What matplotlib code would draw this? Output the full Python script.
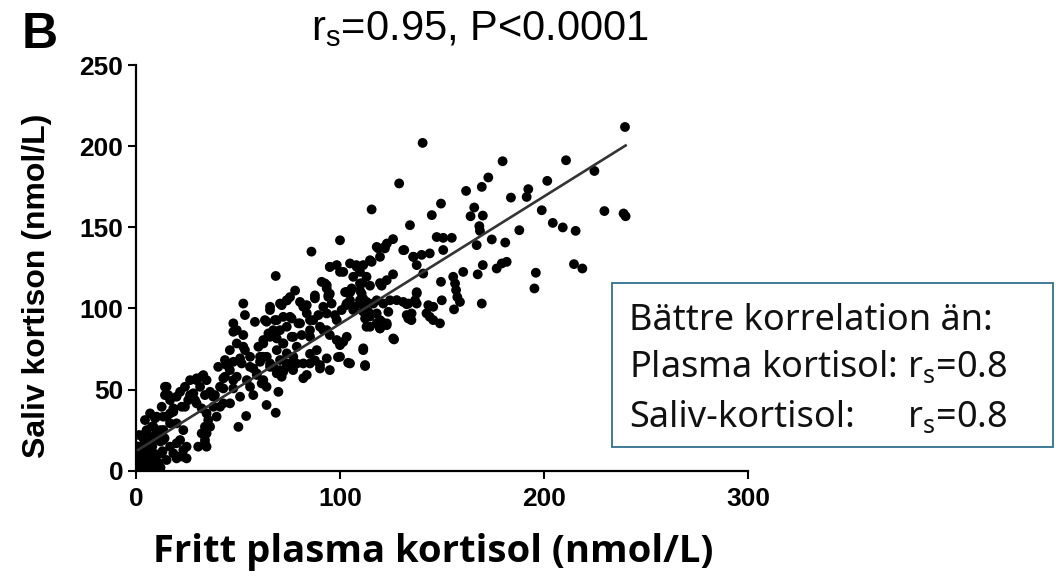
import matplotlib
matplotlib.use("Agg")
import matplotlib.pyplot as plt
import numpy as np

# fritt plasma kortisol vs saliv kortison, one pair per sample
fritt_plasma = [
    115.5, 100, 86, 68.5, 52.6, 95, 101.6, 108, 114.7, 118.8, 123, 92.6, 95, 105, 111, 119.6, 78, 74, 87.7, 82, 65.7, 103, 111,
    140.5, 129, 179.7, 210.8, 239.7, 224.7, 201.6, 172.7, 169.5, 161.8, 192.3, 191.5, 183.8, 149.5, 165.8, 145, 164, 170,
    198.9, 229.6, 240, 239, 134.3, 168.3, 168.6, 204.3, 209.2, 215.5, 187.9, 126, 147.4, 150.6, 154.8, 174.4, 181, 167,
    122, 131.5, 136, 140, 144, 150.6, 137.6, 140.8, 126, 170, 176.8, 179.3, 181.7, 167.5, 160.4, 149.5, 155.5, 156.4,
    156.9, 157.5, 196, 195.3, 214.7, 218.8, 169.5, 137.6, 136.8, 133.5, 149.9, 145.7, 158.8, 124.5,
    155.9, 149, 144, 145.7, 142.4, 143.3, 132.7, 137.6, 132.7, 135, 122.9, 120.4, 119.6, 126.5, 122.9,
    93.5, 94.3, 95.9, 73.9, 75.5, 71.4, 82, 83.7, 102.5, 104.9, 109.8, 111.4, 114.7, 120.4, 118,
    111.4, 114.7, 118, 113, 119.6, 111.4, 112.3, 104, 95, 90.2, 82, 83.7, 99, 100, 101.6, 88.6, 87.7, 85.3, 77, 78.8,
    69.8, 64, 68.5, 54, 50.2, 47.7, 49.4, 53.4, 58.3, 65.7, 69, 64, 67.3, 75.5, 79.6, 73.9, 77.1, 81.2, 85.3,
    86.9, 90.2, 93.5, 95, 98.4, 103.3, 106.5, 49.4, 53.4, 55.9, 51.8, 57.5, 60, 62.4, 64.9, 69, 72.2,
    62.4, 65.7, 70.6, 73.9, 75.5, 72.2, 69, 59.2, 61.6, 64, 55.9, 57.5, 54.3, 46, 47.7, 42.8, 40.3, 43.6, 46,
    34.6, 32.2, 29.7, 36.3, 33.8, 38.7, 41.2, 28.1, 25.6, 24, 29.7, 32.2, 34.6, 35.4, 33.8, 32.2, 33.8, 30.5, 34.6,
    19.9, 23.2, 20.7, 18.3, 24.8, 15, 14.2, 19.9, 22.4, 18.3, 15, 10.1, 7.7, 10.1, 13.4, 16.7,
    3.6, 2, 5.2, 8.5, 0.3, 3.6, 6.9, 10.1, 2, 5.2, 11.8, 0.5,
    14.2, 15.8, 21.6, 26.5, 29.7, 33, 31.4, 28.9, 9.3, 8.5, 3.6, 11.8, 16.7, 19.9, 23.2, 21.6, 23.2, 19.9,
    33.8, 34.6, 36.3, 39.5, 41.2, 37.9, 42.8, 44.4, 43.6, 47.7, 49.4, 47.7, 46.1, 51, 52.6, 51, 55.9, 59.2,
    62.4, 65.7, 69, 72.2, 73.9, 71.4, 60.8, 62.4, 65.7, 47.7, 52.6,
    118, 122, 119.6, 115.5, 111.4, 108.2, 104.9, 109.8, 106.5, 113, 95.1, 100, 98.4,
    91, 93.5, 94.3, 91.8, 87.7, 83.7, 80.4, 70.6, 63.2, 68.1, 72.2, 76.3, 80.4, 85.3, 89.4, 93.5, 97.5, 100.8,
    104.1, 103.3, 105.7, 109.8, 110.6, 109.8, 107.4, 113.1, 116.3, 113.9, 112.3, 114.7, 119.6, 118, 121.2, 122.9,
    126.1, 111.4, 112.3, 104.9, 100, 93.5, 90.2, 85.3, 82, 77.1, 73.9, 70.6, 67.3, 64.1, 60.8, 78.8, 85.3, 91.8,
    98.4, 103.3, 70.6, 65.7, 76.3, 131, 135.9, 137.6, 135.1, 133.5, 131, 127.8, 123.7,
    1, 2, 3, 4, 5, 6, 7, 8, 9, 10, 12, 4, 6, 2, 11, 13, 3, 7, 9, 5, 14, 1, 8, 12, 0.5, 1.5, 6.5, 10.5,
    13.4, 18.3, 6.9, 24.8, 37.9, 42.8, 26.5, 24, 16.7, 12.6, 6.9, 4.4, 5.2, 13.4, 16.7, 12.6, 15, 8.5,
]
saliv_kortison = [
    161, 142, 135, 120, 103, 125.6, 122.5, 126.7, 129.7, 137, 140, 115.4, 109, 110, 115.6, 115.6, 111, 105, 108, 102, 101, 102, 103,
    202, 177, 190.7, 191.3, 211.8, 184.7, 178.6, 180.7, 174.9, 172.4, 173.5, 168.7, 168.3, 164.6, 162.2, 157.5, 156.8, 157.2,
    160.5, 160, 156.8, 158.5, 151.3, 150.7, 147.8, 152.7, 149.9, 147.8, 148.2, 142.7, 144, 143.5, 143.5, 142.5, 140.6, 139,
    138, 136, 131.8, 133, 133.9, 136, 126.7, 121.5, 121, 126.7, 124.6, 127.7, 128.7, 121, 122.5, 116.4, 119.5, 115.4,
    111.3, 107, 122, 112.3, 127.3, 124.6, 103, 110, 105, 103, 105, 101, 104, 105,
    99.4, 90.8, 94.8, 92.8, 97, 102, 102.6, 103, 95.9, 92.8, 90.8, 91.8, 87.7, 80.9, 117.4,
    114.3, 108.2, 103, 105, 107, 102, 101, 97, 110, 105, 111, 106, 114, 114, 105,
    98, 95, 90.8, 88.7, 87.7, 74.3, 64.5, 66.5, 62, 63, 57, 59, 70, 77.4, 79.4, 74.3, 68, 72, 62, 66,
    48.6, 40.5, 35.7, 33.7, 27, 90.8, 86.6, 95.9, 91.7, 99, 92.8, 91.8, 86.6, 94.8, 90.8, 88.7, 82.5, 83.6, 86.6,
    92.8, 88.7, 86.6, 83.6, 92.8, 103, 99, 78.4, 74.3, 70.2, 66.1, 63, 76.4, 80.5, 84.6, 81.5, 78.4,
    70.2, 66.1, 68.2, 72.3, 65.1, 61, 60, 59, 53.8, 51.7, 51.7, 46.6, 55.8, 62, 55.8, 56.9, 64, 68.2, 74.3,
    55.8, 57.9, 56.9, 48.6, 46.6, 46.6, 51.7, 47.7, 43.5, 39.4, 41.5, 38.4, 35.3, 31.2, 27.1, 23, 18.9, 14.8, 14.8,
    16.9, 12.7, 8.6, 10.7, 7.6, 51.7, 46.6, 45.6, 39.4, 36.3, 33.3, 33.3, 27.1, 23, 25.1, 29.2,
    20.9, 14.8, 12.7, 10.7, 8.6, 6.6, 4.6, 3.5, 2.5, 0.8, 0.8, 0.5,
    51.7, 46.6, 48.6, 46.6, 55.8, 58.9, 51.7, 43.5, 32.3, 27.1, 20, 25, 35.3, 29.2, 25, 18.9, 8.6, 7.6,
    16.9, 23, 27.1, 33.3, 39.4, 45.6, 50.7, 65.1, 57.9, 67.1, 57.9, 50.7, 41.5, 45.6, 76.4, 69.2, 64, 60,
    55.8, 64, 74.3, 78.4, 64, 57.9, 70.2, 78.4, 83.6, 85.6, 83.6,
    137.9, 137, 131.8, 128.7, 126.7, 125.6, 127.7, 122.5, 119.5, 119.5, 125.6, 122.5, 126.7,
    116.4, 112.3, 107.1, 101, 106.2, 102, 104, 103, 92.8, 92.8, 94.8, 93.8, 90.8, 92.8, 95.9, 96.9, 95.9, 99,
    103, 110.2, 112.3, 115.4, 109.2, 105.1, 101, 104, 103, 97.9, 93.8, 88.7, 92.8, 96.9, 103, 89.7,
    81.5, 75.4, 65.1, 66.1, 70.2, 69.2, 65.1, 66.1, 66.1, 70.2, 66.1, 62, 64, 70.2, 67.1, 76.4, 82.5, 86.6,
    80.5, 82.5, 86.6, 82.5, 82.5, 135.9, 131.8, 109.2, 96.9, 93.8, 104, 105.1, 97.9,
    2, 5, 9, 4, 7, 12, 3, 15, 6, 10, 18, 14, 18, 12, 5, 12, 1, 9, 20, 24, 20, 6, 1, 2, 15, 22, 16, 20,
    33.3, 38.4, 20.9, 14.8, 39.4, 41.5, 55.8, 51.7, 43.5, 39.4, 35.3, 31.2, 25, 18.9, 14.8, 10.7, 6.6, 5.5,
]

# linear fit drawn across the data range
fit_intercept = 12.0
fit_slope = 0.785
fit_range = [1, 240]

fig = plt.figure(figsize=(10.59, 5.76), dpi=100)
ax = fig.add_axes([136 / 1059, 105.3 / 576, 612 / 1059, 405.7 / 576])

ax.scatter(fritt_plasma, saliv_kortison, s=50, c="black", edgecolors="none", zorder=3)
fx = np.array(fit_range)
ax.plot(fx, fit_intercept + fit_slope * fx, color="#333333", lw=1.9, zorder=4)

ax.set_xlim(0, 300)
ax.set_ylim(0, 250)
ax.set_xticks([0, 100, 200, 300])
ax.set_yticks([0, 50, 100, 150, 200, 250])
for side in ["top", "right"]:
    ax.spines[side].set_visible(False)
for side in ["left", "bottom"]:
    ax.spines[side].set_linewidth(1.6)
ax.tick_params(direction="out", length=6, width=1.5, pad=3)
ax.tick_params(axis="x", pad=6)
for lab in ax.get_xticklabels() + ax.get_yticklabels():
    lab.set_fontfamily("Liberation Sans")
    lab.set_fontweight("bold")
    lab.set_fontsize(19)

ax.set_ylabel("Saliv kortison (nmol/L)", fontfamily="Liberation Sans", fontweight="bold", fontsize=23)
ax.yaxis.set_label_coords(-84 / 612, 0.455)
fig.text(433 / 1059, 1 - 562 / 576, "Fritt plasma kortisol (nmol/L)", fontfamily="Open Sans",
         fontweight="bold", fontsize=27.5, ha="center", va="baseline")

fig.text(480 / 1059, 1 - 40 / 576, r"r$_\mathregular{s}$=0.95, P<0.0001", fontfamily="Liberation Sans",
         fontsize=30, ha="center", va="baseline")
fig.text(22 / 1059, 1 - 48 / 576, "B", fontfamily="Liberation Sans", fontweight="bold",
         fontsize=36, va="baseline")

# annotation box
box = plt.Rectangle((611.7 / 1059, 1 - 446.7 / 576), 441.3 / 1059, 164 / 576, transform=fig.transFigure,
                    facecolor="white", edgecolor="#31718f", lw=1.3, zorder=5)
fig.patches.append(box)
tkw = dict(fontfamily="Noto Sans", fontsize=26, va="baseline", color="#111111", zorder=6)
fig.text(629 / 1059, 1 - 330 / 576, "Bättre korrelation än:", **tkw)
fig.text(629 / 1059, 1 - 377 / 576, r"Plasma kortisol: r$_\mathregular{s}$=0.8", **tkw)
fig.text(629 / 1059, 1 - 427 / 576, "Saliv-kortisol:", **tkw)
fig.text(907 / 1059, 1 - 427 / 576, r"r$_\mathregular{s}$=0.8", **tkw)

fig.savefig("out.png", dpi=100, facecolor="white")
